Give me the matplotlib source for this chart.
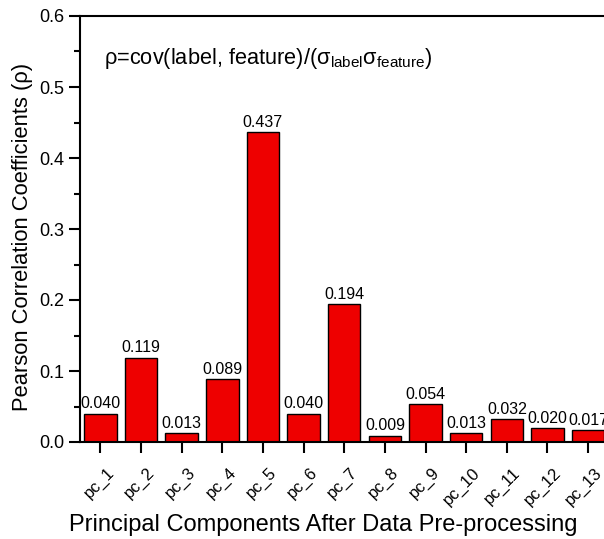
import matplotlib.pyplot as plt
import matplotlib.transforms as mtransforms
import numpy as np

plt.rcParams['font.family'] = ['Liberation Sans', 'DejaVu Sans']
plt.rcParams['mathtext.fontset'] = 'custom'
plt.rcParams['mathtext.rm'] = 'Liberation Sans'
plt.rcParams['mathtext.it'] = 'Liberation Sans'

# Pearson correlation of each principal component with the label
components = ["pc_1", "pc_2", "pc_3", "pc_4", "pc_5", "pc_6", "pc_7",
              "pc_8", "pc_9", "pc_10", "pc_11", "pc_12", "pc_13"]
rho = [0.040, 0.119, 0.013, 0.089, 0.437, 0.040, 0.194,
       0.009, 0.054, 0.013, 0.032, 0.020, 0.017]

fig = plt.figure(figsize=(6.04, 5.39), dpi=100)
ax = fig.add_axes([80 / 604, 1 - 442 / 539, 1 - 80 / 604, (442 - 16) / 539])

pos = np.arange(1, len(components) + 1)
ax.bar(pos, rho, width=0.8, color="#ee0000", edgecolor="black", linewidth=1.0)
for x, v in zip(pos, rho):
    ax.text(x, v + 0.003, f"{v:.3f}", ha="center", va="bottom", fontsize=11.5)

ax.set_xlim(0.5, 13.39)
ax.set_ylim(0, 0.6)
ax.set_yticks(np.arange(0, 0.61, 0.1))
ax.set_yticks(np.arange(0.05, 0.6, 0.1), minor=True)
ax.set_xticks(pos)
ax.set_xticklabels([])

# slanted category labels, set a bit right of and below each tick
shift = mtransforms.ScaledTranslation(6 / 100, -23 / 100, fig.dpi_scale_trans)
for x, name in zip(pos, components):
    ax.text(x, 0, name, transform=ax.get_xaxis_transform() + shift,
            rotation=45, ha="right", va="top", rotation_mode="anchor",
            fontsize=12)

ax.spines["right"].set_visible(False)
for s in ["left", "bottom", "top"]:
    ax.spines[s].set_linewidth(1.5)
ax.tick_params(axis="both", which="major", direction="out", length=8, width=1.5, labelsize=13)
ax.tick_params(axis="y", which="minor", direction="out", length=4, width=1.5)
ax.tick_params(axis="y", pad=3)

ax.set_ylabel("Pearson Correlation Coefficients (ρ)", fontsize=15.8)
ax.yaxis.set_label_coords(-0.090, 0.481)
ax.set_xlabel("Principal Components After Data Pre-processing", fontsize=17)
ax.xaxis.set_label_coords((323 - 80) / 524, -0.170)

ax.text(0.045, 0.9, r"ρ=cov(label, feature)/(σ$_{\mathrm{label}}$σ$_{\mathrm{feature}}$)",
        transform=ax.transAxes, fontsize=15.7, va="center")

fig.savefig("out.png", dpi=100)
